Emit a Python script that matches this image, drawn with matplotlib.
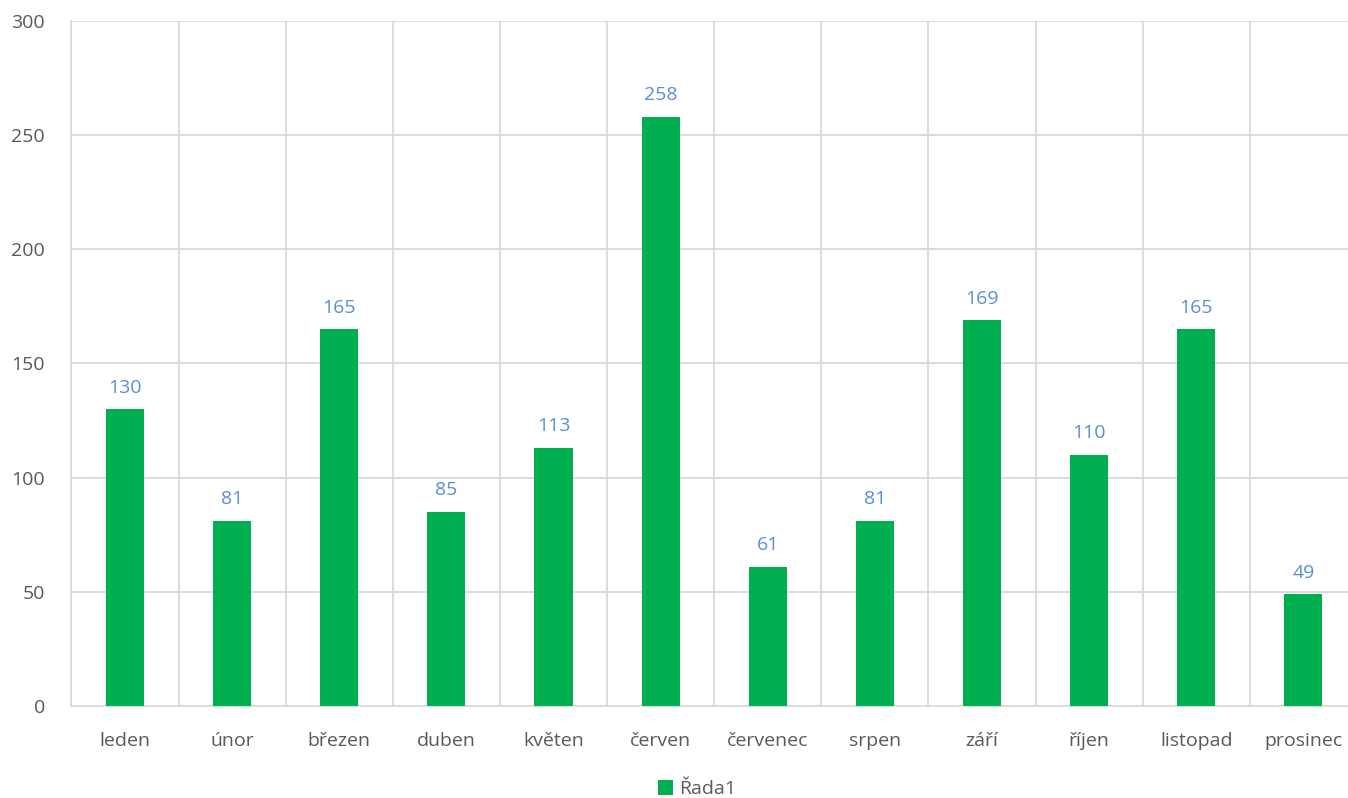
import matplotlib
matplotlib.use('Agg')
import matplotlib.pyplot as plt
import numpy as np

months = ['leden', 'únor', 'březen', 'duben', 'květen', 'červen',
          'červenec', 'srpen', 'září', 'říjen', 'listopad', 'prosinec']
values = [130, 81, 165, 85, 113, 258, 61, 81, 169, 110, 165, 49]
yticks = [0, 50, 100, 150, 200, 250, 300]

plt.rcParams['font.family'] = ['Open Sans', 'DejaVu Sans']

fig = plt.figure(figsize=(13.48, 7.98), dpi=100)
ax = fig.add_axes([71.4 / 1348, 1 - 706 / 798, (1357 - 71.4) / 1348, (706 - 21) / 798])

x = np.arange(len(months))
ax.bar(x, values, width=0.355, color='#00B050', zorder=3, label='Řada1')
for xi, v in zip(x, values):
    ax.text(xi, v + 5.5, str(v), ha='center', va='bottom', color='#5B8ED6', fontsize=14)

ax.set_xlim(-0.5, len(months) - 0.5)
ax.set_ylim(0, 300)
ax.set_yticks(yticks)
ax.set_yticklabels([str(t) for t in yticks])
ax.set_xticks(x)
ax.set_xticklabels(months)
ax.tick_params(axis='both', length=0, colors='#595959', labelsize=14)
ax.tick_params(axis='x', pad=19)
ax.tick_params(axis='y', pad=19)

# gridlines: horizontal at ticks, vertical between categories
for t in yticks[1:]:
    ax.axhline(t, color='#D9D9D9', lw=1.3, zorder=1)
for b in np.arange(-0.5, len(months) + 0.5, 1):
    ax.axvline(b, color='#D9D9D9', lw=1.3, zorder=1)

for s in ['top', 'right']:
    ax.spines[s].set_visible(False)
ax.spines['left'].set_color('#D9D9D9')
ax.spines['bottom'].set_color('#D9D9D9')
ax.spines['left'].set_linewidth(1.3)
ax.spines['bottom'].set_linewidth(1.3)

fig.legend(loc='center', bbox_to_anchor=(697 / 1348, 1 - 789 / 798), frameon=False,
           fontsize=14, labelcolor='#595959', handlelength=0.8, handleheight=0.8,
           handletextpad=0.3)

fig.savefig('out.png', dpi=100, facecolor='white')
